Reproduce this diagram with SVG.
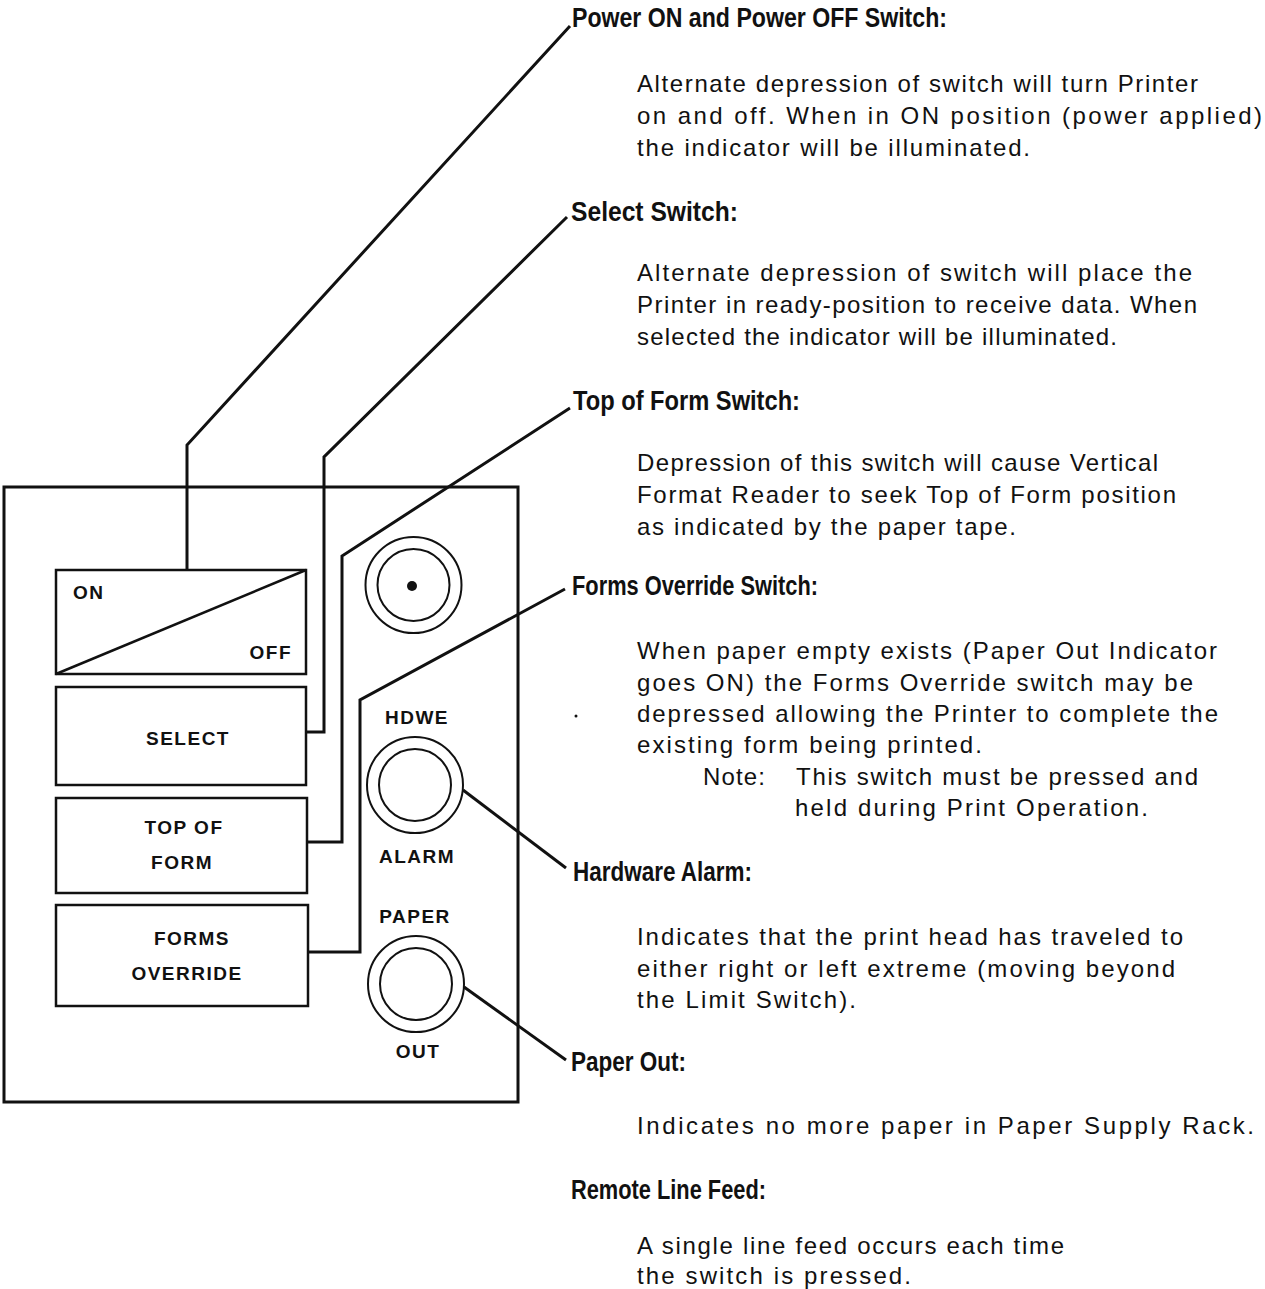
<svg xmlns="http://www.w3.org/2000/svg" width="1265" height="1289" viewBox="0 0 1265 1289">
<style>
.ln{fill:none;stroke:#111;stroke-width:3;stroke-linejoin:miter}
.bx{fill:none;stroke:#111;stroke-width:2.5}
.ring{fill:none;stroke:#111;stroke-width:2}
.pl{font-family:"Liberation Sans",Arial,sans-serif;font-weight:bold;font-size:19px;fill:#111;letter-spacing:1.5px}
.tt{font-family:"Liberation Sans Narrow","Liberation Sans",Arial,sans-serif;font-weight:bold;font-size:27px;fill:#111}
.bd{font-family:"Liberation Sans",Arial,sans-serif;font-size:24px;fill:#111}
</style>
<rect width="1265" height="1289" fill="#fff"/>
<g id="panel">
<rect x="4" y="487" width="514" height="615" fill="none" stroke="#111" stroke-width="3"/>
</g>
<g id="power-switch">
<rect class="bx" x="56" y="570" width="250" height="104"/>
<line x1="56" y1="674" x2="306" y2="570" stroke="#111" stroke-width="2.5"/>
<text class="pl" x="73" y="599">ON</text>
<text class="pl" x="292" y="659" text-anchor="end">OFF</text>
</g>
<g id="select-switch">
<rect class="bx" x="56" y="687" width="250" height="98"/>
<text class="pl" x="188" y="745" text-anchor="middle">SELECT</text>
</g>
<g id="top-of-form-switch">
<rect class="bx" x="56" y="798" width="251" height="95"/>
<text class="pl" x="184" y="834" text-anchor="middle">TOP OF</text>
<text class="pl" x="182" y="869" text-anchor="middle">FORM</text>
</g>
<g id="forms-override-switch">
<rect class="bx" x="56" y="905" width="252" height="101"/>
<text class="pl" x="192" y="945" text-anchor="middle">FORMS</text>
<text class="pl" x="187" y="980" text-anchor="middle">OVERRIDE</text>
</g>
<g id="power-indicator">
<circle class="ring" cx="413.5" cy="585" r="48"/>
<circle class="ring" cx="413.5" cy="585" r="36"/>
<circle cx="412" cy="586" r="5" fill="#111"/>
</g>
<g id="hdwe-alarm">
<text class="pl" x="417" y="724" text-anchor="middle">HDWE</text>
<circle class="ring" cx="415" cy="785" r="48"/>
<circle class="ring" cx="415" cy="785" r="36"/>
<text class="pl" x="417" y="863" text-anchor="middle">ALARM</text>
</g>
<g id="paper-out">
<text class="pl" x="415" y="923" text-anchor="middle">PAPER</text>
<circle class="ring" cx="416" cy="984" r="48"/>
<circle class="ring" cx="416" cy="984" r="36"/>
<text class="pl" x="418" y="1058" text-anchor="middle">OUT</text>
</g>
<g id="connectors">
<polyline class="ln" points="570,26 187,445 187,570"/>
<polyline class="ln" points="567,217 324,457 324,732 306,732"/>
<polyline class="ln" points="570,408 342,556 342,842 307,842"/>
<polyline class="ln" points="565,589 360,700 360,952 308,952"/>
<polyline class="ln" points="463,790 566,868"/>
<polyline class="ln" points="464,987 566,1060"/>
</g>
<g id="desc-power">
<text class="tt" x="572" y="27" textLength="375" lengthAdjust="spacingAndGlyphs">Power ON and Power OFF Switch:</text>
<text class="bd" x="637" y="92" textLength="561" lengthAdjust="spacing">Alternate depression of switch will turn Printer</text>
<text class="bd" x="637" y="124" textLength="625" lengthAdjust="spacing">on and off.  When in ON position (power applied)</text>
<text class="bd" x="637" y="156" textLength="393" lengthAdjust="spacing">the indicator will be illuminated.</text>
</g>
<g id="desc-select">
<text class="tt" x="571" y="221" textLength="167" lengthAdjust="spacingAndGlyphs">Select Switch:</text>
<text class="bd" x="637" y="281" textLength="555" lengthAdjust="spacing">Alternate depression of switch will place the</text>
<text class="bd" x="637" y="313" textLength="560" lengthAdjust="spacing">Printer in ready-position to receive data.  When</text>
<text class="bd" x="637" y="345" textLength="480" lengthAdjust="spacing">selected the indicator will be illuminated.</text>
</g>
<g id="desc-top-of-form">
<text class="tt" x="573" y="410" textLength="227" lengthAdjust="spacingAndGlyphs">Top of Form Switch:</text>
<text class="bd" x="637" y="471" textLength="521" lengthAdjust="spacing">Depression of this switch will cause Vertical</text>
<text class="bd" x="637" y="503" textLength="539" lengthAdjust="spacing">Format Reader to seek Top of Form position</text>
<text class="bd" x="637" y="535" textLength="379" lengthAdjust="spacing">as indicated by the paper tape.</text>
</g>
<g id="desc-forms-override">
<text class="tt" x="572" y="595" textLength="246" lengthAdjust="spacingAndGlyphs">Forms Override Switch:</text>
<text class="bd" x="637" y="659" textLength="580" lengthAdjust="spacing">When paper empty exists (Paper Out Indicator</text>
<text class="bd" x="637" y="691" textLength="556" lengthAdjust="spacing">goes ON) the Forms Override switch may be</text>
<text class="bd" x="637" y="722" textLength="581" lengthAdjust="spacing">depressed allowing the Printer to complete the</text>
<text class="bd" x="637" y="753" textLength="345" lengthAdjust="spacing">existing form being printed.</text>
<text class="bd" x="703" y="785" textLength="62" lengthAdjust="spacing">Note:</text>
<text class="bd" x="796" y="785" textLength="402" lengthAdjust="spacing">This switch must be pressed and</text>
<text class="bd" x="795" y="816" textLength="353" lengthAdjust="spacing">held during Print Operation.</text>
<circle cx="576" cy="716" r="1.5" fill="#111"/>
</g>
<g id="desc-hardware-alarm">
<text class="tt" x="573" y="881" textLength="179" lengthAdjust="spacingAndGlyphs">Hardware Alarm:</text>
<text class="bd" x="637" y="945" textLength="546" lengthAdjust="spacing">Indicates that the print head has traveled to</text>
<text class="bd" x="637" y="977" textLength="538" lengthAdjust="spacing">either right or left extreme (moving beyond</text>
<text class="bd" x="637" y="1008" textLength="219" lengthAdjust="spacing">the Limit Switch).</text>
</g>
<g id="desc-paper-out">
<text class="tt" x="571" y="1071" textLength="115" lengthAdjust="spacingAndGlyphs">Paper Out:</text>
<text class="bd" x="637" y="1134" textLength="617" lengthAdjust="spacing">Indicates no more paper in Paper Supply Rack.</text>
</g>
<g id="desc-remote-line-feed">
<text class="tt" x="571" y="1199" textLength="195" lengthAdjust="spacingAndGlyphs">Remote Line Feed:</text>
<text class="bd" x="637" y="1254" textLength="427" lengthAdjust="spacing">A single line feed occurs each time</text>
<text class="bd" x="637" y="1284" textLength="274" lengthAdjust="spacing">the switch is pressed.</text>
</g>
</svg>
